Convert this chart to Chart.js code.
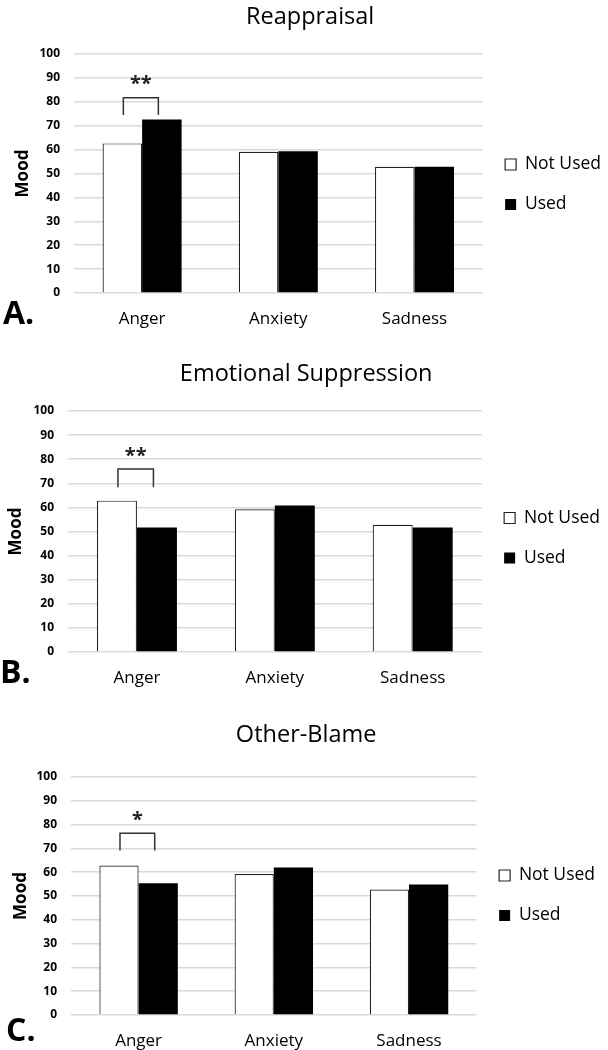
<!DOCTYPE html>
<html>
<head>
<meta charset="utf-8">
<script src="https://cdn.jsdelivr.net/npm/chart.js@4.4.0/dist/chart.umd.min.js"></script>
<style>
  body { margin: 0; background: #fff; }
  .panel { position: absolute; left: 0; width: 608px; }
  .letter { position: absolute; font: bold 32px "Open Sans", sans-serif; line-height: 32px; color: #000; }
</style>
</head>
<body>
<div class="panel" style="top:0;height:345px"><canvas id="chartA"></canvas></div>
<div class="panel" style="top:350px;height:350px"><canvas id="chartB"></canvas></div>
<div class="panel" style="top:710px;height:345px"><canvas id="chartC"></canvas></div>
<div class="letter" style="left:3px;top:296px">A.</div>
<div class="letter" style="left:0px;top:655px">B.</div>
<div class="letter" style="left:6px;top:1013px">C.</div>
<script>
const categories = ['Anger', 'Anxiety', 'Sadness'];
const seriesNames = ['Not Used', 'Used'];
const panelTitles = ['Reappraisal', 'Emotional Suppression', 'Other-Blame'];

const reappraisalNotUsed = [62.6, 59.1, 52.8];
const reappraisalUsed = [72.6, 59.3, 52.8];
const suppressionNotUsed = [62.8, 59.2, 52.8];
const suppressionUsed = [51.7, 60.8, 51.7];
const blameNotUsed = [62.8, 59.2, 52.7];
const blameUsed = [55.4, 62.0, 54.8];

// significance markers (one per panel, over Anger)
const sigCategory = [0, 0, 0];
const sigLabels = ['**', '**', '*'];
const bracketTops = [81.7, 75.9, 76.4];
const bracketLegs = [74.5, 68.4, 69.1];
const starLevels = [89.4, 83.2, 83.9];

Chart.defaults.font.family = '"Open Sans", sans-serif';
Chart.defaults.color = '#000';

function makePanel(canvasId, idx, notUsed, used, geo) {
  const sigPlugin = {
    id: 'sig' + idx,
    afterDatasetsDraw(chart) {
      const y = chart.scales.y;
      const c = sigCategory[idx];
      const b0 = chart.getDatasetMeta(0).data[c];
      const b1 = chart.getDatasetMeta(1).data[c];
      const x1 = b0.x + 1, x2 = b1.x - 3.5;
      const yTop = y.getPixelForValue(bracketTops[idx]);
      const yLeg = y.getPixelForValue(bracketLegs[idx]);
      const ctx = chart.ctx;
      ctx.save();
      ctx.strokeStyle = '#333';
      ctx.lineWidth = 1.5;
      ctx.beginPath();
      ctx.moveTo(x1, yLeg);
      ctx.lineTo(x1, yTop);
      ctx.lineTo(x2, yTop);
      ctx.lineTo(x2, yLeg);
      ctx.stroke();
      ctx.font = 'bold 20px "Open Sans"';
      ctx.fillStyle = '#222';
      ctx.textAlign = 'center';
      ctx.textBaseline = 'alphabetic';
      ctx.fillText(sigLabels[idx], (x1 + x2) / 2, y.getPixelForValue(starLevels[idx]) + 10.5);
      ctx.restore();
    }
  };

  return new Chart(document.getElementById(canvasId), {
    type: 'bar',
    data: {
      labels: categories,
      datasets: [
        {
          label: seriesNames[0], data: notUsed,
          backgroundColor: '#fff', borderColor: '#222', borderWidth: 1.2,
          categoryPercentage: 0.58, barPercentage: 1
        },
        {
          label: seriesNames[1], data: used,
          backgroundColor: '#000', borderColor: '#000', borderWidth: 0,
          categoryPercentage: 0.58, barPercentage: 1
        }
      ]
    },
    options: {
      responsive: true,
      maintainAspectRatio: false,
      animation: false,
      layout: { padding: { left: geo.padL, right: geo.padR, top: 0, bottom: 0 } },
      plugins: {
        title: {
          display: true,
          text: panelTitles[idx],
          color: '#000',
          font: { size: 23.5, weight: 'normal' },
          padding: { top: geo.titleTop, bottom: geo.titleBottom }
        },
        legend: {
          position: 'right',
          title: { display: true, text: ' ', font: { size: 10 }, padding: geo.legShift },
          labels: {
            color: '#000',
            font: { size: 17.5 },
            boxWidth: 11,
            boxHeight: 11,
            padding: 22.5
          }
        },
        tooltip: { enabled: false }
      },
      scales: {
        x: {
          grid: { display: false, drawTicks: false },
          border: { display: false },
          ticks: { color: '#000', font: { size: 17 }, padding: 16 },
          afterFit: s => { s.height = geo.xH; }
        },
        y: {
          min: 0,
          max: 100,
          ticks: { stepSize: 10, color: '#000', font: { size: 12, weight: 'bold' }, padding: 14 },
          grid: { color: '#d9d9d9', lineWidth: 1.5, drawTicks: false },
          border: { display: false },
          title: {
            display: true, text: 'Mood', color: '#000',
            font: { size: 17, weight: 'bold' }, padding: { top: 4, bottom: 4 }
          },
          afterFit: s => { s.width = geo.yW; }
        }
      }
    },
    plugins: [sigPlugin]
  });
}

makePanel('chartA', 0, reappraisalNotUsed, reappraisalUsed,
  { padL: 9.3, yW: 64.7, padR: -3, titleTop: 3, titleBottom: 22.8, xH: 52, legShift: 6 });
makePanel('chartB', 1, suppressionNotUsed, suppressionUsed,
  { padL: 2.3, yW: 65.7, padR: -2, titleTop: 10, titleBottom: 22.8, xH: 48, legShift: 7 });
makePanel('chartC', 2, blameNotUsed, blameUsed,
  { padL: 7.3, yW: 63.7, padR: 3, titleTop: 11, titleBottom: 27.8, xH: 40, legShift: 7 });
</script>
</body>
</html>
